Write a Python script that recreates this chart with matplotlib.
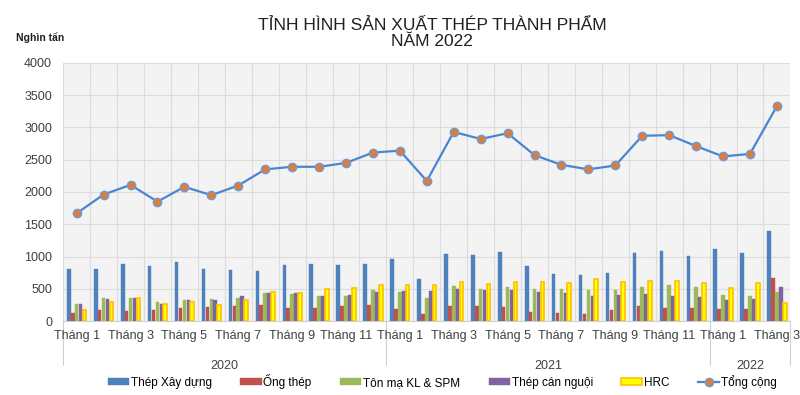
"""
Tinh hinh san xuat thep thanh pham, thang 1/2020 - thang 3/2022.
Cot nhom theo tung loai thep va duong tong cong.
"""
import numpy as np
import matplotlib
matplotlib.use('Agg')
import matplotlib.pyplot as plt
from matplotlib.lines import Line2D
import matplotlib.transforms as mtransforms

plt.rcParams['font.family'] = ['Liberation Sans', 'DejaVu Sans']

YEARS = ['2020', '2021', '2022']
MONTHS_PER_YEAR = [12, 12, 3]

thep_xay_dung = [801, 801, 878, 847, 909, 801, 785, 775, 868, 878, 868, 878,
                 961, 651, 1034, 1018, 1070, 847, 729, 713, 744, 1054, 1085, 1008,
                 1116, 1054, 1395]
ong_thep = [129, 170, 160, 165, 207, 222, 238, 248, 207, 207, 238, 243,
            181, 114, 238, 227, 222, 134, 129, 114, 170, 227, 207, 207,
            181, 191, 667]
ton_ma = [269, 351, 356, 294, 325, 341, 362, 434, 419, 393, 393, 476,
          455, 356, 543, 496, 522, 496, 496, 486, 486, 522, 558, 522,
          403, 383, 455]
thep_can_nguoi = [273, 341, 362, 269, 325, 325, 383, 434, 429, 388, 408, 450,
                  465, 465, 496, 476, 486, 455, 434, 383, 403, 424, 388, 372,
                  325, 341, 527]
hrc = [176, 300, 356, 264, 294, 248, 325, 450, 439, 496, 517, 553,
       563, 563, 605, 579, 605, 605, 589, 646, 600, 620, 625, 589,
       507, 589, 279]
tong_cong = [1670, 1960, 2110, 1850, 2080, 1950, 2100, 2350, 2390, 2390, 2450, 2610,
             2640, 2170, 2930, 2820, 2910, 2570, 2420, 2350, 2410, 2870, 2880, 2710,
             2550, 2590, 3330]

series = [
    ('Thép Xây dựng', thep_xay_dung, '#4F81BD', '#4F81BD'),
    ('Ống thép', ong_thep, '#C0504D', '#C0504D'),
    ('Tôn mạ KL & SPM', ton_ma, '#9BBB59', '#9BBB59'),
    ('Thép cán nguội', thep_can_nguoi, '#8064A2', '#8064A2'),
    ('HRC', hrc, '#FFFF00', '#FFC000'),
]

n = len(tong_cong)
x = np.arange(n)

fig = plt.figure(figsize=(8, 3.95), dpi=100)
ax = fig.add_axes([0.079, 0.187, 0.909, 0.654])
ax.set_facecolor('#f3f3f3')

# bars
width = 0.145
handles = []
for i, (name, vals, color, edge) in enumerate(series):
    lw = 1.2 if name == 'HRC' else 0.3
    h = ax.bar(x + (i - 2) * width, vals, width * 0.92, color=color, edgecolor=edge,
               linewidth=lw, label=name, zorder=3)
    handles.append(h)

# total line
line, = ax.plot(x, tong_cong, color='#4A86D0', linewidth=1.6, marker='o', markersize=6,
                markerfacecolor='#E07B39', markeredgecolor='#6C9BD8', markeredgewidth=1,
                label='Tổng cộng', zorder=4)
handles.append(line)

ax.set_xlim(-0.5, n - 0.5)
ax.set_ylim(0, 4000)
ax.set_yticks(np.arange(0, 4001, 500))
ax.tick_params(axis='y', length=0, labelsize=9, pad=8, labelcolor='#404040')

# vertical gridlines at category boundaries
ax.set_xticks(np.arange(-0.5, n, 1), minor=True)
ax.set_xticks([])
ax.grid(which='minor', axis='x', color='#dcdcdc', linewidth=0.8, zorder=0)
ax.grid(which='major', axis='y', color='#dcdcdc', linewidth=0.8, zorder=0)
ax.tick_params(axis='x', which='minor', length=0)
for s in ['top', 'right', 'left']:
    ax.spines[s].set_visible(False)
ax.spines['bottom'].set_color('#d0d0d0')

# month labels and year groups
trans = mtransforms.blended_transform_factory(ax.transData, ax.transAxes)
start = 0
bounds = [-0.5]
for year, count in zip(YEARS, MONTHS_PER_YEAR):
    for m in range(1, count + 1, 2):
        ax.text(start + m - 1, -0.035, 'Tháng %d' % m, transform=trans,
                ha='center', va='top', fontsize=9, color='#404040')
    ax.text(start + (count - 1) / 2, -0.15, year, transform=trans,
            ha='center', va='top', fontsize=9, color='#404040')
    start += count
    bounds.append(start - 0.5)
for b in bounds:
    ax.add_line(Line2D([b, b], [0, -0.17], transform=trans, color='#d0d0d0',
                       linewidth=0.8, clip_on=False))

fig.text(0.54, 0.955, 'TỈNH HÌNH SẢN XUẤT THÉP THÀNH PHẨM\nNĂM 2022',
         ha='center', va='top', fontsize=12.5, color='#202020', linespacing=1.1)
fig.text(0.02, 0.895, 'Nghìn tấn', fontsize=7.5, fontweight='bold', color='#202020')

fig.legend(handles=handles, loc='center', bbox_to_anchor=(0.553, 0.035), ncol=6,
           frameon=False, fontsize=8.5, columnspacing=2.4, handlelength=1.8,
           handleheight=0.6, handletextpad=0.15)

fig.savefig('out.png', dpi=100)
